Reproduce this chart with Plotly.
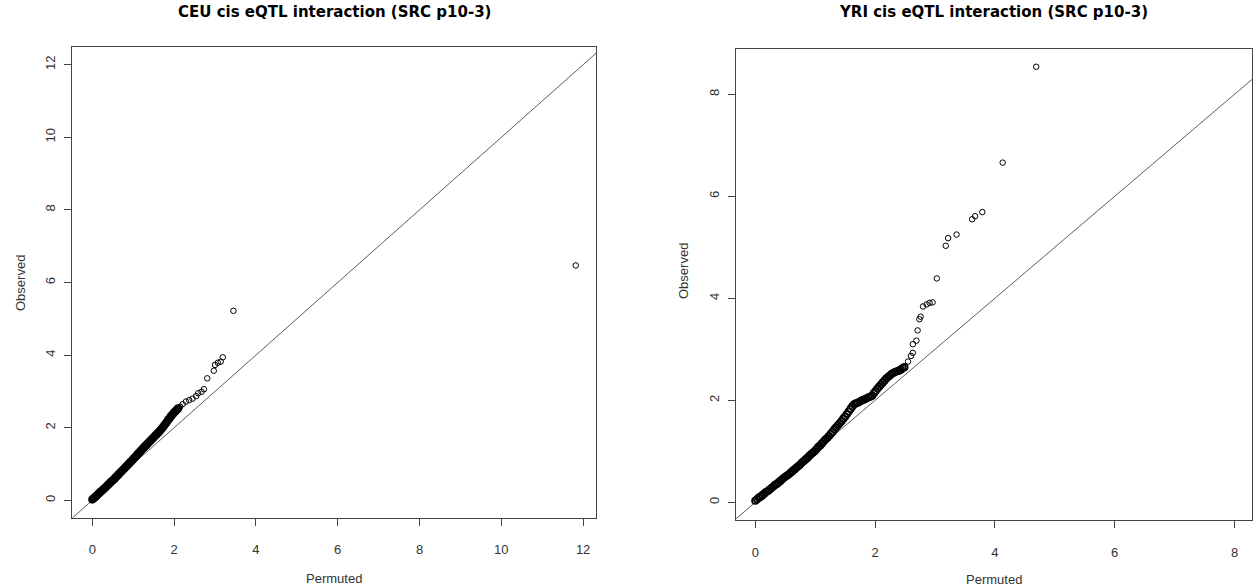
import plotly.graph_objects as go

# ---------------- data ----------------
ceu_band_x = [0.00,0.03,0.06,0.09,0.12,0.15,0.18,0.21,0.24,0.27,0.30,0.33,0.36,0.39,0.42,0.45,0.48,0.51,0.54,0.57,
              0.60,0.63,0.66,0.69,0.72,0.75,0.78,0.81,0.84,0.87,0.90,0.93,0.96,0.99,1.02,1.05,1.08,1.11,1.14,1.17,
              1.20,1.23,1.26,1.29,1.32,1.35,1.38,1.41,1.44,1.47,1.50,1.53,1.56,1.59,1.62,1.65,1.68,1.71,1.74,1.77,
              1.80,1.83,1.86,1.89,1.92,1.95,1.98,2.01,2.04,2.07,2.10]
ceu_band_y = [0.02,0.05,0.08,0.11,0.14,0.18,0.21,0.24,0.27,0.30,0.33,0.36,0.40,0.43,0.46,0.50,0.53,0.56,0.59,0.63,
              0.66,0.70,0.73,0.77,0.80,0.84,0.87,0.91,0.94,0.98,1.01,1.05,1.08,1.12,1.16,1.19,1.23,1.27,1.31,1.34,
              1.38,1.42,1.45,1.49,1.52,1.56,1.59,1.63,1.66,1.70,1.73,1.77,1.80,1.84,1.87,1.91,1.95,1.99,2.03,2.08,
              2.12,2.17,2.22,2.26,2.31,2.35,2.39,2.43,2.46,2.50,2.53]
ceu_tail_x = [2.15,2.21,2.29,2.37,2.45,2.54,2.59,2.67,2.73,2.81,2.97,3.00,3.07,3.14,3.19,3.45,11.82]
ceu_tail_y = [2.58,2.65,2.72,2.76,2.80,2.87,2.95,2.99,3.06,3.36,3.57,3.73,3.79,3.82,3.94,5.22,6.47]

yri_band_x = [0.00,0.03,0.06,0.09,0.12,0.15,0.18,0.21,0.24,0.27,0.30,0.33,0.36,0.39,0.42,0.45,0.48,0.51,0.54,0.57,
              0.60,0.63,0.66,0.69,0.72,0.75,0.78,0.81,0.84,0.87,0.90,0.93,0.96,0.99,1.02,1.05,1.08,1.11,1.14,1.17,
              1.20,1.23,1.26,1.29,1.32,1.35,1.38,1.41,1.44,1.47,1.50,1.53,1.56,1.59,1.62,1.65,1.68,1.71,1.74,1.77,
              1.80,1.83,1.86,1.89,1.92,1.95,1.98,2.01,2.04,2.07,2.10,2.13,2.16,2.19,2.22,2.25,2.28,2.31,2.34,2.37,
              2.40,2.43,2.46,2.49]
yri_band_y = [0.03,0.06,0.09,0.11,0.14,0.17,0.20,0.22,0.25,0.28,0.31,0.34,0.36,0.39,0.42,0.45,0.48,0.51,0.53,0.56,
              0.59,0.62,0.65,0.68,0.71,0.74,0.78,0.81,0.84,0.87,0.91,0.94,0.97,1.00,1.04,1.08,1.11,1.15,1.19,1.23,
              1.26,1.30,1.34,1.38,1.43,1.47,1.51,1.55,1.59,1.64,1.68,1.73,1.78,1.83,1.88,1.92,1.94,1.95,1.97,1.99,
              2.01,2.02,2.04,2.06,2.07,2.09,2.14,2.18,2.23,2.27,2.31,2.35,2.39,2.43,2.46,2.49,2.52,2.54,2.56,2.57,
              2.58,2.60,2.63,2.65]
yri_tail_x = [2.55,2.60,2.63,2.63,2.69,2.71,2.74,2.76,2.80,2.86,2.91,2.96,3.03,3.18,3.22,3.36,3.62,3.67,3.79,4.13,4.69]
yri_tail_y = [2.76,2.87,2.93,3.10,3.17,3.37,3.59,3.64,3.84,3.88,3.91,3.92,4.39,5.03,5.18,5.25,5.55,5.61,5.69,6.66,8.54]

titles = ["CEU cis eQTL interaction (SRC p10-3)", "YRI cis eQTL interaction (SRC p10-3)"]
x_label = "Permuted"
y_label = "Observed"
ceu_ticks = [0, 2, 4, 6, 8, 10, 12]
yri_ticks = [0, 2, 4, 6, 8]

# ---------------- layout constants (pixels) ----------------
W, H = 1255, 587
def fx(px): return px / W
def fy(py): return 1 - py / H

L1, R1, T1, B1 = 72.0, 596.0, 46.7, 517.7
L2, R2, T2, B2 = 735.7, 1252.0, 48.5, 520.0

ceu_xr = [-0.496, 12.315]
ceu_yr = [-0.479, 12.496]
yri_xr = [-0.327, 8.292]
yri_yr = [-0.347, 8.898]

FONT = "Liberation Sans, Arial, sans-serif"
TFONT = "DejaVu Sans, Liberation Sans, sans-serif"
LINE = "#444444"

fig = go.Figure()

def add_panel(bx, by, tx, ty, xa, ya):
    fig.add_trace(go.Scatter(x=[-1, 14], y=[-1, 14], mode="lines",
                             line=dict(color="#333333", width=0.8),
                             xaxis=xa, yaxis=ya, hoverinfo="skip", showlegend=False))
    fig.add_trace(go.Scatter(x=bx, y=by, mode="markers",
                             marker=dict(symbol="circle-open", size=6.5, color="black",
                                         line=dict(width=1.7, color="black")),
                             xaxis=xa, yaxis=ya, showlegend=False))
    fig.add_trace(go.Scatter(x=tx, y=ty, mode="markers",
                             marker=dict(symbol="circle-open", size=5.5, color="black",
                                         line=dict(width=1, color="black")),
                             xaxis=xa, yaxis=ya, showlegend=False))

add_panel(ceu_band_x, ceu_band_y, ceu_tail_x, ceu_tail_y, "x", "y")
add_panel(yri_band_x, yri_band_y, yri_tail_x, yri_tail_y, "x2", "y2")

def axis(domain, rng, ticks, anchor, angle=0, standoff=8):
    return dict(domain=domain, range=rng, tickvals=ticks, ticktext=[str(t) for t in ticks],
                anchor=anchor, showgrid=False, zeroline=False,
                showline=True, linecolor=LINE, linewidth=1, mirror=True,
                ticks="outside", ticklen=7, tickwidth=1, tickcolor=LINE,
                tickfont=dict(family=FONT, size=13, color="#333333"),
                tickangle=angle, ticklabelstandoff=standoff)

fig.update_layout(
    width=W, height=H,
    margin=dict(l=0, r=0, t=0, b=0),
    paper_bgcolor="white", plot_bgcolor="white",
    xaxis=axis([fx(L1), fx(R1)], ceu_xr, ceu_ticks, "y", 0, 13),
    yaxis=axis([fy(B1), fy(T1)], ceu_yr, ceu_ticks, "x", -90, 4),
    xaxis2=axis([fx(L2), fx(R2)], yri_xr, yri_ticks, "y2", 0, 13),
    yaxis2=axis([fy(B2), fy(T2)], yri_yr, yri_ticks, "x2", -90, 4),
    showlegend=False,
)

ann = []
for title, l, r in [(titles[0], L1, R1), (titles[1], L2, R2)]:
    ann.append(dict(text="<b>" + title + "</b>", x=fx((l + r) / 2), y=fy(12), xref="paper", yref="paper",
                    showarrow=False, xanchor="center", yanchor="middle",
                    font=dict(family=TFONT, size=15, color="black")))
for l, r, yy in [(L1, R1, 578), (L2, R2, 579)]:
    ann.append(dict(text=x_label, x=fx((l + r) / 2), y=fy(yy), xref="paper", yref="paper",
                    showarrow=False, xanchor="center", yanchor="middle",
                    font=dict(family=FONT, size=13, color="#333333")))
for xx, yy in [(20, 283), (683, 271)]:
    ann.append(dict(text=y_label, x=fx(xx), y=fy(yy), xref="paper", yref="paper",
                    showarrow=False, xanchor="center", yanchor="middle", textangle=-90,
                    font=dict(family=FONT, size=13, color="#333333")))
fig.update_layout(annotations=ann)

fig.write_html("out.html", config={"displayModeBar": False},
               post_script="document.body.style.margin='0px';document.body.style.overflow='hidden';")
